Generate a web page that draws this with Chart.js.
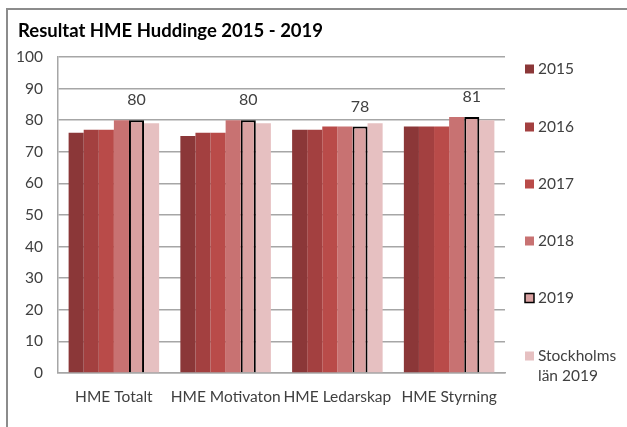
<!DOCTYPE html>
<html>
<head>
<meta charset="utf-8">
<script src="https://cdn.jsdelivr.net/npm/chart.js@4"></script>
<style>
  html, body { margin: 0; padding: 0; background: #fff; }
  #wrap { width: 627px; height: 427px; position: relative; }
</style>
</head>
<body>
<div id="wrap"><canvas id="myChart" width="627" height="427"></canvas></div>
<script>
// data
const categories = ["HME Totalt", "HME Motivaton", "HME Ledarskap", "HME Styrning"];
const seriesNames = ["2015", "2016", "2017", "2018", "2019", ["Stockholms", "län 2019"]];
const v2015 = [76, 75, 77, 78];
const v2016 = [77, 76, 77, 78];
const v2017 = [77, 76, 78, 78];
const v2018 = [80, 80, 78, 81];
const v2019 = [80, 80, 78, 81];
const vStockholm = [79, 79, 79, 80];
const yTicks = [0, 10, 20, 30, 40, 50, 60, 70, 80, 90, 100];

const COLORS = ["#8b3738", "#a34040", "#b94b49", "#c87272", "#d9a1a1", "#e6c0c1"];
const FONT = "Lato, 'Open Sans', sans-serif";
const TEXT = "#404040";

const allValues = [v2015, v2016, v2017, v2018, v2019, vStockholm];

const datasets = allValues.map((vals, i) => ({
  label: Array.isArray(seriesNames[i]) ? seriesNames[i].join(" ") : seriesNames[i],
  data: vals,
  backgroundColor: COLORS[i],
  borderColor: i === 4 ? "#000" : COLORS[i],
  borderWidth: i === 4 ? 2 : 0,
  categoryPercentage: 0.81,
  barPercentage: 1.0
}));

// frame + title
const framePlugin = {
  id: "frame",
  beforeDraw(chart) {
    const ctx = chart.ctx;
    ctx.save();
    ctx.fillStyle = "#fff";
    ctx.fillRect(0, 0, chart.width, chart.height);
    ctx.strokeStyle = "#8c8c8c";
    ctx.lineWidth = 2;
    ctx.strokeRect(7, 9, 700, 500);
    ctx.fillStyle = "#000";
    ctx.font = "bold 18.5px " + FONT;
    ctx.textBaseline = "middle";
    ctx.textAlign = "left";
    ctx.fillText("Resultat HME Huddinge 2015 - 2019", 18, 31);
    ctx.restore();
  }
};

// value labels on the 2019 bars
const labelPlugin = {
  id: "labels2019",
  afterDatasetsDraw(chart) {
    const ctx = chart.ctx;
    const meta = chart.getDatasetMeta(4);
    ctx.save();
    ctx.fillStyle = TEXT;
    ctx.font = "16px " + FONT;
    ctx.textAlign = "center";
    ctx.textBaseline = "middle";
    meta.data.forEach((bar, j) => {
      ctx.fillText(String(v2019[j]), bar.x, bar.y - 20);
    });
    ctx.restore();
  }
};

// legend on the right
const legendPlugin = {
  id: "sideLegend",
  afterDraw(chart) {
    const ctx = chart.ctx;
    const rows = [69, 127, 184, 241, 298, 356];
    ctx.save();
    ctx.font = "15.5px " + FONT;
    ctx.textBaseline = "middle";
    ctx.textAlign = "left";
    seriesNames.forEach((name, i) => {
      const y = rows[i];
      ctx.fillStyle = COLORS[i];
      ctx.fillRect(525, y - 4.5, 9, 9);
      if (i === 4) {
        ctx.strokeStyle = "#000";
        ctx.lineWidth = 1.5;
        ctx.strokeRect(525, y - 4.5, 9, 9);
      }
      ctx.fillStyle = TEXT;
      const lines = Array.isArray(name) ? name : [name];
      lines.forEach((ln, k) => ctx.fillText(ln, 538, y + k * 20));
    });
    ctx.restore();
  }
};

new Chart(document.getElementById("myChart"), {
  type: "bar",
  data: { labels: categories, datasets: datasets },
  options: {
    responsive: false,
    animation: false,
    layout: { padding: { left: 0, right: 122, top: 57, bottom: 0 } },
    plugins: {
      legend: { display: false },
      title: { display: false },
      tooltip: { enabled: false }
    },
    scales: {
      x: {
        grid: { display: false, drawTicks: false },
        border: { display: true, color: "#a6a6a6", width: 1.5 },
        ticks: { color: TEXT, font: { family: FONT, size: 15.5 }, padding: 15, maxRotation: 0, autoSkip: false },
        afterFit(scale) { scale.height = 54; }
      },
      y: {
        min: 0,
        max: 100,
        afterBuildTicks(scale) { scale.ticks = yTicks.map(v => ({ value: v })); },
        grid: { color: "#a6a6a6", lineWidth: 1.5, drawTicks: false },
        border: { display: true, color: "#a6a6a6", width: 1.5 },
        ticks: { color: TEXT, font: { family: FONT, size: 15.5 }, padding: 15 },
        afterFit(scale) { scale.width = 58; }
      }
    }
  },
  plugins: [framePlugin, labelPlugin, legendPlugin]
});
</script>
</body>
</html>
